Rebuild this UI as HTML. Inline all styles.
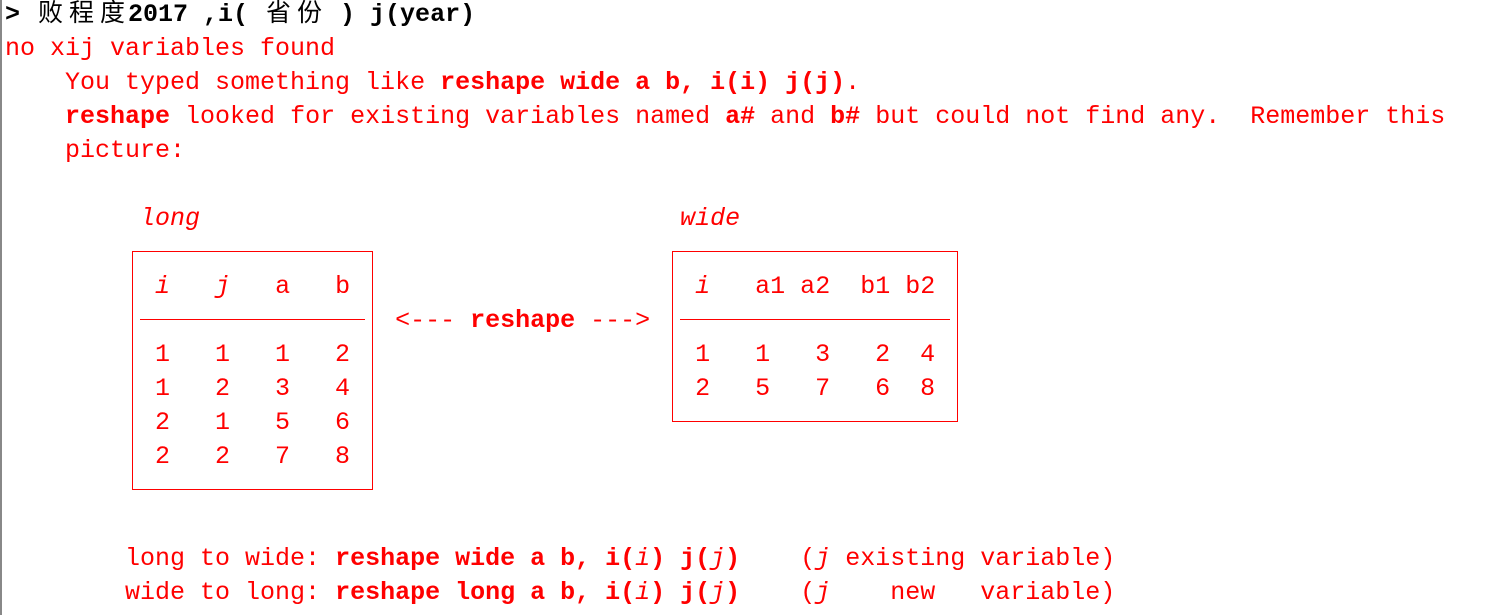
<!DOCTYPE html>
<html><head><meta charset="utf-8"><style>
html,body{margin:0;padding:0;background:#fff;width:1493px;height:615px;overflow:hidden;position:relative}
pre{position:absolute;left:5px;top:-6px;margin:0;font-family:"Liberation Mono","Noto Sans CJK SC",monospace;font-size:25px;line-height:34px;color:#f00;white-space:pre}
b{font-weight:bold}
.k{color:#000}
.c{display:inline-block;width:31px;font-family:"Noto Sans CJK SC",sans-serif;font-weight:normal;text-align:center}
.box{position:absolute;border:1px solid #f00}
.hr{position:absolute;height:1px;background:#f00}
.lb{position:absolute;left:0;top:0;width:2px;height:615px;background:#888}
</style></head><body>
<div class="lb"></div>
<pre><b class="k">&gt; <span class="c">败</span><span class="c">程</span><span class="c">度</span>2017 ,i( <span class="c">省</span><span class="c">份</span> ) j(year)</b>
no xij variables found
    You typed something like <b>reshape wide a b, i(i) j(j)</b>.
    <b>reshape</b> looked for existing variables named <b>a#</b> and <b>b#</b> but could not find any.  Remember this
    picture:

         <i>long</i>                                <i>wide</i>

          <i>i</i>   <i>j</i>   a   b                       <i>i</i>   a1 a2  b1 b2
                          &lt;--- <b>reshape</b> ---&gt;
          1   1   1   2                       1   1   3   2  4
          1   2   3   4                       2   5   7   6  8
          2   1   5   6
          2   2   7   8


        long to wide: <b>reshape wide a b, i(</b><i>i</i><b>) j(</b><i>j</i><b>)</b>    (<i>j</i> existing variable)
        wide to long: <b>reshape long a b, i(</b><i>i</i><b>) j(</b><i>j</i><b>)</b>    (<i>j</i>    new   variable)</pre>
<div class="box" style="left:132px;top:251px;width:239px;height:237px"></div>
<div class="hr" style="left:140px;top:319px;width:225px"></div>
<div class="box" style="left:672px;top:251px;width:284px;height:169px"></div>
<div class="hr" style="left:680px;top:319px;width:270px"></div>
</body></html>
